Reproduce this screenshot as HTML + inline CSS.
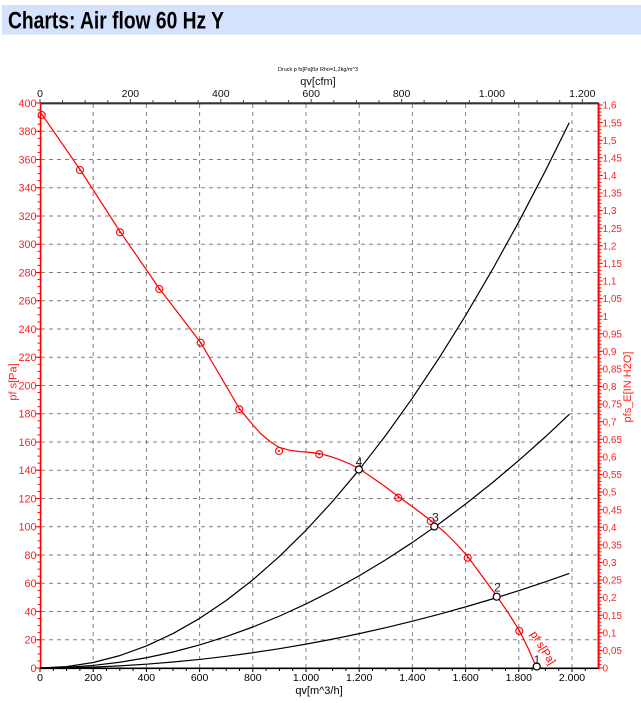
<!DOCTYPE html>
<html><head><meta charset="utf-8"><style>
html,body{margin:0;padding:0;background:#fff;}
svg{display:block;font-family:"Liberation Sans",Arial,sans-serif;}
</style></head><body>
<svg width="641" height="703" viewBox="0 0 641 703" xmlns="http://www.w3.org/2000/svg">
<defs>
<pattern id="lt" x="0" y="667.5" width="10" height="7.0625" patternUnits="userSpaceOnUse"><rect x="0" y="0" width="10" height="1" fill="#ff0000"/></pattern>
<pattern id="rt" x="0" y="667.5" width="10" height="3.5184" patternUnits="userSpaceOnUse"><rect x="0" y="0" width="10" height="0.9" fill="#ff0000"/></pattern>
<pattern id="rtm" x="0" y="667.5" width="10" height="17.592" patternUnits="userSpaceOnUse"><rect x="0" y="0" width="10" height="1" fill="#ff0000"/></pattern>
</defs>
<rect x="0" y="0" width="641" height="703" fill="#fff"/>
<!-- header -->
<rect x="2" y="5" width="639" height="29.5" fill="#d5e2fb"/>
<text x="8" y="28.5" font-size="24" font-weight="bold" fill="#000" textLength="216" lengthAdjust="spacingAndGlyphs">Charts: Air flow 60 Hz Y</text>

<text x="318" y="71" font-size="5.5" text-anchor="middle" fill="#000" textLength="80" lengthAdjust="spacingAndGlyphs">Druck p fs[Pa]für Rho=1,2kg/m^3</text>
<text x="318" y="85" font-size="11" text-anchor="middle" fill="#111">qv[cfm]</text>

<!-- grid -->
<g stroke="#808080" stroke-width="1" stroke-dasharray="4 4" fill="none">
<path d="M93.2 104V668M146.4 104V668M199.6 104V668M252.8 104V668M306 104V668M359.2 104V668M412.4 104V668M465.6 104V668M518.8 104V668M572 104V668"/>
<path d="M41 639.75H598M41 611.5H598M41 583.25H598M41 555H598M41 526.75H598M41 498.5H598M41 470.25H598M41 442H598M41 413.75H598M41 385.5H598M41 357.25H598M41 329H598M41 300.75H598M41 272.5H598M41 244.25H598M41 216H598M41 187.75H598M41 159.5H598M41 131.25H598"/>
</g>

<!-- top axis -->
<line x1="40" y1="103.3" x2="599" y2="103.3" stroke="#333" stroke-width="2.2"/>
<path stroke="#444" stroke-width="1" fill="none" d="M40 99V103M62.6 100V103M85.2 100V103M107.8 100V103M130.4 99V103M153 100V103M175.6 100V103M198.2 100V103M220.8 99V103M243.4 100V103M266 100V103M288.6 100V103M311.2 99V103M333.8 100V103M356.4 100V103M379 100V103M401.6 99V103M424.1 100V103M446.7 100V103M469.3 100V103M491.9 99V103M514.5 100V103M537.1 100V103M559.7 100V103M582.3 99V103"/>
<g font-size="10.5" fill="#111" text-anchor="middle">
<text x="40" y="97">0</text><text x="130.4" y="97">200</text><text x="220.8" y="97">400</text><text x="311.2" y="97">600</text><text x="401.6" y="97">800</text><text x="491.9" y="97">1.000</text><text x="582.3" y="97">1.200</text>
</g>

<!-- bottom axis -->
<line x1="40" y1="668.3" x2="599" y2="668.3" stroke="#000" stroke-width="1.6"/>
<path stroke="#000" stroke-width="1" fill="none" d="M40 668v4M53.3 668v3M66.6 668v3M79.9 668v3M93.2 668v4M106.5 668v3M119.8 668v3M133.1 668v3M146.4 668v4M159.7 668v3M173 668v3M186.3 668v3M199.6 668v4M212.9 668v3M226.2 668v3M239.5 668v3M252.8 668v4M266.1 668v3M279.4 668v3M292.7 668v3M306 668v4M319.3 668v3M332.6 668v3M345.9 668v3M359.2 668v4M372.5 668v3M385.8 668v3M399.1 668v3M412.4 668v4M425.7 668v3M439 668v3M452.3 668v3M465.6 668v4M478.9 668v3M492.2 668v3M505.5 668v3M518.8 668v4M532.1 668v3M545.4 668v3M558.7 668v3M572 668v4M585.3 668v3"/>
<g font-size="10.5" fill="#000" text-anchor="middle">
<text x="40" y="681">0</text><text x="93.2" y="681">200</text><text x="146.4" y="681">400</text><text x="199.6" y="681">600</text><text x="252.8" y="681">800</text><text x="306" y="681">1.000</text><text x="359.2" y="681">1.200</text><text x="412.4" y="681">1.400</text><text x="465.6" y="681">1.600</text><text x="518.8" y="681">1.800</text><text x="572" y="681">2.000</text>
</g>
<text x="319" y="694" font-size="11" text-anchor="middle" fill="#000">qv[m^3/h]</text>

<!-- left axis -->
<rect x="37.5" y="102.5" width="3" height="566.5" fill="url(#lt)"/>
<line x1="40.6" y1="103" x2="40.6" y2="669" stroke="#ff0000" stroke-width="1.6"/>
<path stroke="#ff0000" stroke-width="1" d="M36 668H40M36 639.75H40M36 611.5H40M36 583.25H40M36 555H40M36 526.75H40M36 498.5H40M36 470.25H40M36 442H40M36 413.75H40M36 385.5H40M36 357.25H40M36 329H40M36 300.75H40M36 272.5H40M36 244.25H40M36 216H40M36 187.75H40M36 159.5H40M36 131.25H40M36 103H40"/>
<g font-size="10.8" fill="#ff2020" text-anchor="end">
<text x="36.5" y="671.8">0</text><text x="36.5" y="643.5">20</text><text x="36.5" y="615.3">40</text><text x="36.5" y="587">60</text><text x="36.5" y="558.8">80</text><text x="36.5" y="530.5">100</text><text x="36.5" y="502.3">120</text><text x="36.5" y="474">140</text><text x="36.5" y="445.8">160</text><text x="36.5" y="417.5">180</text><text x="36.5" y="389.3">200</text><text x="36.5" y="361">220</text><text x="36.5" y="332.8">240</text><text x="36.5" y="304.5">260</text><text x="36.5" y="276.3">280</text><text x="36.5" y="248">300</text><text x="36.5" y="219.8">320</text><text x="36.5" y="191.5">340</text><text x="36.5" y="163.3">360</text><text x="36.5" y="135">380</text><text x="36.5" y="106.8">400</text>
</g>
<text transform="translate(16.5,382) rotate(-90)" font-size="11" fill="#ff2020" text-anchor="middle">pf s[Pa]</text>

<!-- right axis -->
<rect x="599" y="104.5" width="2.5" height="564" fill="url(#rt)"/>
<rect x="599" y="104.5" width="3.8" height="564" fill="url(#rtm)"/>
<line x1="598.6" y1="103" x2="598.6" y2="669" stroke="#ff0000" stroke-width="2"/>
<g font-size="10" fill="#ff2020">
<text x="602.5" y="671.6">0</text><text x="602.5" y="654">0,05</text><text x="602.5" y="636.4">0,1</text><text x="602.5" y="618.8">0,15</text><text x="602.5" y="601.2">0,2</text><text x="602.5" y="583.6">0,25</text><text x="602.5" y="566">0,3</text><text x="602.5" y="548.5">0,35</text><text x="602.5" y="530.9">0,4</text><text x="602.5" y="513.3">0,45</text><text x="602.5" y="495.7">0,5</text><text x="602.5" y="478.1">0,55</text><text x="602.5" y="460.5">0,6</text><text x="602.5" y="442.9">0,65</text><text x="602.5" y="425.3">0,7</text><text x="602.5" y="407.7">0,75</text><text x="602.5" y="390.1">0,8</text><text x="602.5" y="372.5">0,85</text><text x="602.5" y="354.9">0,9</text><text x="602.5" y="337.4">0,95</text><text x="602.5" y="319.8">1</text><text x="602.5" y="302.2">1,05</text><text x="602.5" y="284.6">1,1</text><text x="602.5" y="267">1,15</text><text x="602.5" y="249.4">1,2</text><text x="602.5" y="231.8">1,25</text><text x="602.5" y="214.2">1,3</text><text x="602.5" y="196.6">1,35</text><text x="602.5" y="179">1,4</text><text x="602.5" y="161.4">1,45</text><text x="602.5" y="143.8">1,5</text><text x="602.5" y="126.3">1,55</text><text x="602.5" y="108.7">1,6</text>
</g>
<text transform="translate(631,387) rotate(-90)" font-size="11" fill="#ff2020" text-anchor="middle">pfs_E[IN H2O]</text>

<!-- system curves -->
<g stroke="#000" stroke-width="1.2" fill="none" stroke-linejoin="round">
<polyline points="40,668 66.6,666.62 93.2,662.49 119.8,655.61 146.4,645.97 173,633.57 199.6,618.42 226.2,600.52 252.8,579.86 279.4,556.45 306,530.28 332.6,501.36 359.2,469.69 385.8,435.26 412.4,398.07 439,358.13 465.6,315.44 492.2,269.99 518.8,221.79 545.4,170.84 569.3,122.6"/>
<polyline points="40,668 66.6,667.36 93.2,665.44 119.8,662.24 146.4,657.75 173,651.99 199.6,644.94 226.2,636.61 252.8,627 279.4,616.12 306,603.94 332.6,590.49 359.2,575.76 385.8,559.75 412.4,542.44 439,523.87 465.6,504.01 492.2,482.88 518.8,460.46 545.4,436.76 569.3,414.33"/>
<polyline points="40,668 66.6,667.76 93.2,667.05 119.8,665.85 146.4,664.18 173,662.03 199.6,659.41 226.2,656.3 252.8,652.72 279.4,648.66 306,644.13 332.6,639.12 359.2,633.63 385.8,627.66 412.4,621.21 439,614.29 465.6,606.89 492.2,599.01 518.8,590.66 545.4,581.83 569.3,573.47"/>
</g>

<!-- fan curve -->
<polyline fill="none" stroke="#ff0000" stroke-width="1.2" stroke-linejoin="round" points="40.6,112.5 80,169.5 120,231.5 159.3,288.5 180,315.5 200.7,342.7 220,375.5 239.3,408.5 250,421.5 260,433 270,441.5 279,447.3 290,450.3 300,451.6 310,452.4 319.2,453.6 330,456.3 340,459.8 350,464 358.7,468.5 370,476 385,486.5 398.3,496.5 415,508.5 430.7,520.5 445,532.5 457,544.5 467.7,556.5 482,576 496.7,596 508,612.5 519.3,630.5 528,648 536.7,668"/>
<g stroke="#ff0000" stroke-width="1.1" fill="none">
<circle cx="41.7" cy="115" r="3.5"/><circle cx="80" cy="170" r="3.5"/><circle cx="120" cy="232.3" r="3.5"/><circle cx="159.3" cy="289" r="3.5"/><circle cx="200.7" cy="342.7" r="3.5"/><circle cx="239.3" cy="409.3" r="3.5"/><circle cx="279" cy="451" r="3.5"/><circle cx="319.2" cy="454.2" r="3.5"/><circle cx="398.3" cy="497.7" r="3.5"/><circle cx="430.7" cy="521" r="3.5"/><circle cx="467.7" cy="557.7" r="3.5"/><circle cx="519.3" cy="631" r="3.5"/>
</g>
<g fill="#ff0000">
<circle cx="80" cy="170" r="1"/><circle cx="120" cy="232.3" r="1"/><circle cx="159.3" cy="289" r="1"/><circle cx="200.7" cy="342.7" r="1"/><circle cx="239.3" cy="409.3" r="1"/><circle cx="279" cy="451" r="1"/><circle cx="319.2" cy="454.2" r="1"/><circle cx="398.3" cy="497.7" r="1"/><circle cx="430.7" cy="521" r="1"/><circle cx="467.7" cy="557.7" r="1"/><circle cx="519.3" cy="631" r="1"/>
</g>
<text transform="translate(530,634) rotate(58)" font-size="11" fill="#ff0000">pf s[Pa]</text>

<!-- operating points -->
<g stroke="#000" stroke-width="1.2" fill="#fff">
<circle cx="358.9" cy="469.5" r="3.5"/><circle cx="434.3" cy="526.5" r="3.5"/><circle cx="496.7" cy="596.7" r="3.5"/><circle cx="536.7" cy="666.5" r="3.5"/>
</g>
<g font-size="12" fill="#1a1a30" text-anchor="middle">
<text x="359" y="466">4</text><text x="435.5" y="521.5">3</text><text x="497.3" y="591.5">2</text><text x="537" y="664">1</text>
</g>
</svg>
</body></html>
